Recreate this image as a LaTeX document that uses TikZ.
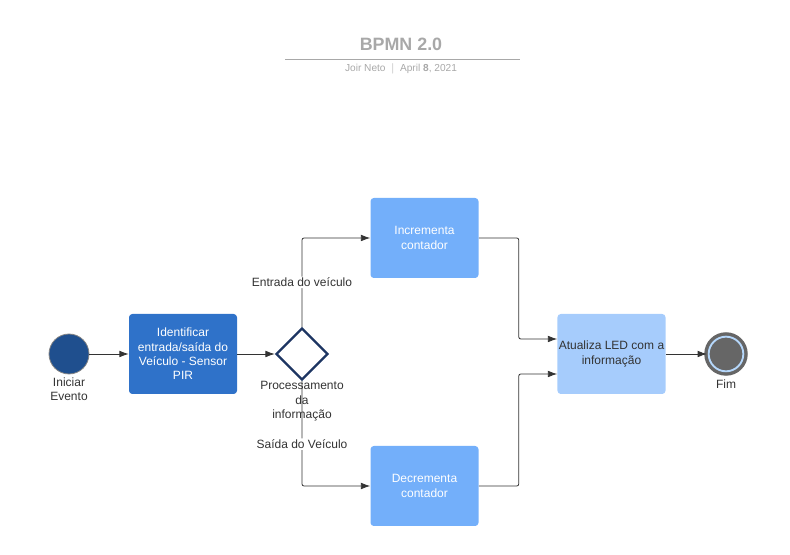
\documentclass[tikz,border=0pt]{standalone}
\usepackage{fontspec}
\setmainfont{Liberation Sans}
\usetikzlibrary{shapes.geometric,arrows.meta,positioning}

\definecolor{headgray}{HTML}{A8A8A8}
\definecolor{inkgray}{HTML}{333333}
\definecolor{taskdark}{HTML}{2F72C9}
\definecolor{tasklight}{HTML}{73AFFA}
\definecolor{taskpale}{HTML}{A6CCFC}
\definecolor{startblue}{HTML}{1F4F8E}
\definecolor{gatenavy}{HTML}{1D3562}
\definecolor{ringgray}{HTML}{666666}
\definecolor{ringblue}{HTML}{B5D7FB}

\begin{document}
\begin{tikzpicture}[x=0.75pt, y=-0.75pt,
	font=\fontsize{9}{10.8}\selectfont,
	task/.style={rectangle, rounded corners=2.5pt, minimum width=81pt, minimum height=60pt, align=center, inner sep=1pt},
	flow/.style={draw=inkgray, line width=0.6pt, rounded corners=1.5pt, -{Latex[length=7pt, width=5pt]}},
	lbl/.style={text=inkgray, align=center, inner sep=1pt}]
	\useasboundingbox (0,0) rectangle (790,555);
	% heading
	\node[text=headgray, font=\bfseries\fontsize{13.4}{15}\selectfont] (title) at (401,44) {BPMN 2.0};
	\draw[headgray, line width=0.6pt] (285,59) -- (520,59);
	\node[text=headgray, font=\fontsize{7.6}{9}\selectfont] (byline) at (401,69) {Joir Neto \ $|$ \ April \textbf{8}, 2021};
	% events, tasks and gateway
	\node[circle, fill=startblue, draw=ringgray!80, line width=0.6pt, minimum size=30pt, inner sep=0pt] (start) at (69,354) {};
	\node[lbl, below=1pt of start] (startlbl) {Iniciar\\Evento};
	\node[task, fill=taskdark, text=white] (identify) at (183,354) {Identificar\\entrada/saída do\\Veículo - Sensor\\PIR};
	\node[diamond, draw=gatenavy, fill=white, line width=1.8pt, minimum width=39pt, minimum height=39pt, inner sep=0pt] (gateway) at (302,354) {};
	\node[lbl, below=-1pt of gateway] (gatelbl) {Processamento\\da\\informação};
	\node[task, fill=tasklight, text=white] (incr) at (424.5,238) {Incrementa\\contador};
	\node[task, fill=tasklight, text=white] (decr) at (424.5,486) {Decrementa\\contador};
	\node[task, fill=taskpale, text=inkgray] (update) at (611.5,354) {Atualiza LED com a\\informação};
	\node[circle, draw=ringgray, fill=ringgray, line width=2.6pt, double=ringblue, double distance=1.4pt, minimum size=26pt, inner sep=0pt] (finish) at (726,354) {};
	\node[lbl, below=3.5pt of finish] (finishlbl) {Fim};
	% connectors
	\draw[flow] (start) -- (identify);
	\draw[flow] (identify) -- (gateway);
	\draw[flow] (gateway.north) |- node[lbl, pos=0.25, fill=white] {Entrada do veículo} (incr.west);
	\draw[flow] (gateway.south) |- node[lbl, pos=0.3, fill=white] {Saída do Veículo} (decr.west);
	\draw[flow] (incr.east) -- ++(40,0) |- ([yshift=11.25pt]update.west);
	\draw[flow] (decr.east) -- ++(40,0) |- ([yshift=-15pt]update.west);
	\draw[flow] (update) -- (finish);
\end{tikzpicture}
\end{document}
